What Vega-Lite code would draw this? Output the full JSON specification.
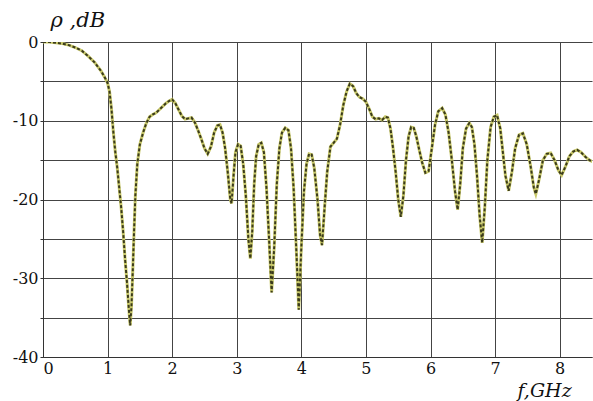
{
  "$schema": "https://vega.github.io/schema/vega-lite/v6.json",
  "width": 549,
  "height": 315,
  "autosize": {"type": "none"},
  "padding": {"left": 43, "top": 42, "right": 1, "bottom": 44},
  "background": "white",
  "config": {"view": {"stroke": null}},
  "data": {"values": [
    {"f":0.00,"r":0.0},{"f":0.10,"r":0.0},{"f":0.20,"r":-0.1},{"f":0.30,"r":-0.2},{"f":0.40,"r":-0.4},
    {"f":0.50,"r":-0.7},{"f":0.60,"r":-1.1},{"f":0.70,"r":-1.8},{"f":0.80,"r":-2.6},{"f":0.90,"r":-3.7},
    {"f":0.95,"r":-4.4},{"f":1.00,"r":-5.2},{"f":1.03,"r":-6.3},{"f":1.06,"r":-8.5},{"f":1.09,"r":-11.5},
    {"f":1.12,"r":-14.0},{"f":1.15,"r":-16.0},{"f":1.18,"r":-18.5},{"f":1.21,"r":-21.0},{"f":1.24,"r":-24.0},
    {"f":1.27,"r":-27.5},{"f":1.30,"r":-30.5},{"f":1.33,"r":-34.0},{"f":1.35,"r":-36.0},{"f":1.37,"r":-33.5},
    {"f":1.39,"r":-29.0},{"f":1.41,"r":-24.0},{"f":1.43,"r":-19.5},{"f":1.46,"r":-15.5},{"f":1.50,"r":-13.0},
    {"f":1.55,"r":-11.5},{"f":1.60,"r":-10.3},{"f":1.65,"r":-9.5},{"f":1.70,"r":-9.2},{"f":1.75,"r":-9.0},
    {"f":1.80,"r":-8.6},{"f":1.85,"r":-8.2},{"f":1.90,"r":-7.8},{"f":1.95,"r":-7.5},{"f":2.00,"r":-7.3},
    {"f":2.05,"r":-7.8},{"f":2.10,"r":-8.6},{"f":2.15,"r":-9.4},{"f":2.20,"r":-9.8},{"f":2.25,"r":-9.7},
    {"f":2.30,"r":-9.6},{"f":2.35,"r":-10.2},{"f":2.40,"r":-11.2},{"f":2.45,"r":-12.3},{"f":2.50,"r":-13.5},
    {"f":2.55,"r":-14.2},{"f":2.60,"r":-13.3},{"f":2.65,"r":-11.5},{"f":2.70,"r":-10.6},{"f":2.74,"r":-10.5},
    {"f":2.78,"r":-11.5},{"f":2.82,"r":-13.5},{"f":2.86,"r":-16.5},{"f":2.90,"r":-20.0},{"f":2.92,"r":-20.5},
    {"f":2.95,"r":-17.0},{"f":2.98,"r":-14.0},{"f":3.02,"r":-13.0},{"f":3.06,"r":-13.2},{"f":3.10,"r":-15.5},
    {"f":3.14,"r":-19.5},{"f":3.18,"r":-25.0},{"f":3.21,"r":-27.5},{"f":3.24,"r":-24.0},{"f":3.27,"r":-18.0},
    {"f":3.30,"r":-14.5},{"f":3.34,"r":-13.0},{"f":3.38,"r":-12.8},{"f":3.42,"r":-14.0},{"f":3.46,"r":-18.5},
    {"f":3.50,"r":-25.0},{"f":3.54,"r":-31.8},{"f":3.58,"r":-26.0},{"f":3.62,"r":-18.0},{"f":3.66,"r":-13.5},
    {"f":3.70,"r":-11.5},{"f":3.75,"r":-10.9},{"f":3.80,"r":-11.2},{"f":3.84,"r":-13.5},{"f":3.88,"r":-18.5},
    {"f":3.92,"r":-26.0},{"f":3.96,"r":-34.0},{"f":4.00,"r":-26.0},{"f":4.04,"r":-19.0},{"f":4.08,"r":-15.5},
    {"f":4.12,"r":-14.2},{"f":4.16,"r":-14.3},{"f":4.20,"r":-16.0},{"f":4.25,"r":-20.0},{"f":4.29,"r":-24.5},
    {"f":4.32,"r":-25.8},{"f":4.36,"r":-21.0},{"f":4.40,"r":-16.5},{"f":4.45,"r":-13.3},{"f":4.50,"r":-12.8},
    {"f":4.55,"r":-12.3},{"f":4.60,"r":-10.5},{"f":4.65,"r":-8.0},{"f":4.70,"r":-6.3},{"f":4.75,"r":-5.3},
    {"f":4.80,"r":-5.6},{"f":4.85,"r":-6.5},{"f":4.90,"r":-7.0},{"f":4.95,"r":-7.2},{"f":5.00,"r":-7.6},
    {"f":5.05,"r":-8.5},{"f":5.10,"r":-9.5},{"f":5.15,"r":-9.8},{"f":5.20,"r":-9.7},{"f":5.25,"r":-9.9},
    {"f":5.30,"r":-9.5},{"f":5.34,"r":-9.6},{"f":5.38,"r":-11.0},{"f":5.42,"r":-13.5},{"f":5.46,"r":-16.5},
    {"f":5.50,"r":-20.0},{"f":5.54,"r":-22.2},{"f":5.58,"r":-19.5},{"f":5.62,"r":-15.0},{"f":5.66,"r":-12.0},
    {"f":5.70,"r":-10.8},{"f":5.74,"r":-10.9},{"f":5.78,"r":-12.0},{"f":5.82,"r":-13.5},{"f":5.87,"r":-15.3},
    {"f":5.92,"r":-16.6},{"f":5.97,"r":-16.4},{"f":6.02,"r":-13.5},{"f":6.07,"r":-10.5},{"f":6.12,"r":-8.8},
    {"f":6.18,"r":-8.4},{"f":6.23,"r":-9.2},{"f":6.28,"r":-11.5},{"f":6.33,"r":-15.0},{"f":6.38,"r":-19.0},
    {"f":6.42,"r":-21.3},{"f":6.46,"r":-18.0},{"f":6.50,"r":-13.5},{"f":6.55,"r":-11.0},{"f":6.60,"r":-10.3},
    {"f":6.64,"r":-10.8},{"f":6.68,"r":-13.0},{"f":6.72,"r":-17.0},{"f":6.76,"r":-22.0},{"f":6.80,"r":-25.5},
    {"f":6.84,"r":-21.0},{"f":6.88,"r":-15.0},{"f":6.93,"r":-10.8},{"f":6.98,"r":-9.5},{"f":7.03,"r":-9.3},
    {"f":7.08,"r":-11.0},{"f":7.12,"r":-14.0},{"f":7.16,"r":-17.0},{"f":7.21,"r":-18.9},{"f":7.26,"r":-16.5},
    {"f":7.31,"r":-13.5},{"f":7.37,"r":-11.8},{"f":7.43,"r":-11.6},{"f":7.49,"r":-13.0},{"f":7.55,"r":-15.8},
    {"f":7.60,"r":-18.5},{"f":7.63,"r":-19.3},{"f":7.68,"r":-17.5},{"f":7.74,"r":-15.0},{"f":7.80,"r":-14.2},
    {"f":7.86,"r":-14.1},{"f":7.92,"r":-15.0},{"f":7.98,"r":-16.3},{"f":8.03,"r":-16.9},{"f":8.09,"r":-15.8},
    {"f":8.15,"r":-14.5},{"f":8.21,"r":-13.9},{"f":8.27,"r":-13.7},{"f":8.33,"r":-14.0},{"f":8.40,"r":-14.6},
    {"f":8.46,"r":-15.0},{"f":8.51,"r":-15.2}
  ]},
  "encoding": {
    "x": {"field": "f", "type": "quantitative",
      "scale": {"domain": [0, 8.5], "nice": false, "zero": false},
      "axis": {"values": [0,1,2,3,4,5,6,7,8], "format": "d", "grid": true, "gridColor": "#444", "gridWidth": 1,
        "domain": true, "domainColor": "#333", "ticks": false, "labelPadding": 3,
        "labelFont": "DejaVu Serif", "labelFontSize": 16, "labelColor": "#111",
        "title": "f,GHz", "titleFont": "DejaVu Serif", "titleFontStyle": "italic", "titleFontWeight": "normal",
        "titleFontSize": 19, "titleColor": "#111", "titleAnchor": "start", "titleAlign": "left",
        "titleX": 474, "titleY": 39, "titleBaseline": "alphabetic"}},
    "y": {"field": "r", "type": "quantitative",
      "scale": {"domain": [-40, 0], "nice": false, "zero": false},
      "axis": {"values": [-40,-35,-30,-25,-20,-15,-10,-5,0], "grid": true, "gridColor": "#444", "gridWidth": 1,
        "labelExpr": "datum.value % 10 == 0 ? (datum.value < 0 ? '-' + abs(datum.value) : '0') : ''",
        "domain": true, "domainColor": "#333", "ticks": true, "tickSize": 3, "tickColor": "#333", "labelPadding": 2,
        "labelFont": "DejaVu Serif", "labelFontSize": 16, "labelColor": "#111",
        "title": "ρ ,dB", "titleFont": "DejaVu Serif", "titleFontStyle": "italic", "titleFontWeight": "normal",
        "titleFontSize": 21, "titleColor": "#111", "titleAngle": 0, "titleAlign": "left",
        "titleX": 7, "titleY": -16, "titleBaseline": "alphabetic"}}
  },
  "layer": [
    {"mark": {"type": "line", "color": "#c8c86a", "strokeWidth": 3, "clip": true}},
    {"mark": {"type": "line", "color": "#3a3a1c", "strokeWidth": 2, "strokeDash": [3, 2], "clip": true}}
  ]
}
